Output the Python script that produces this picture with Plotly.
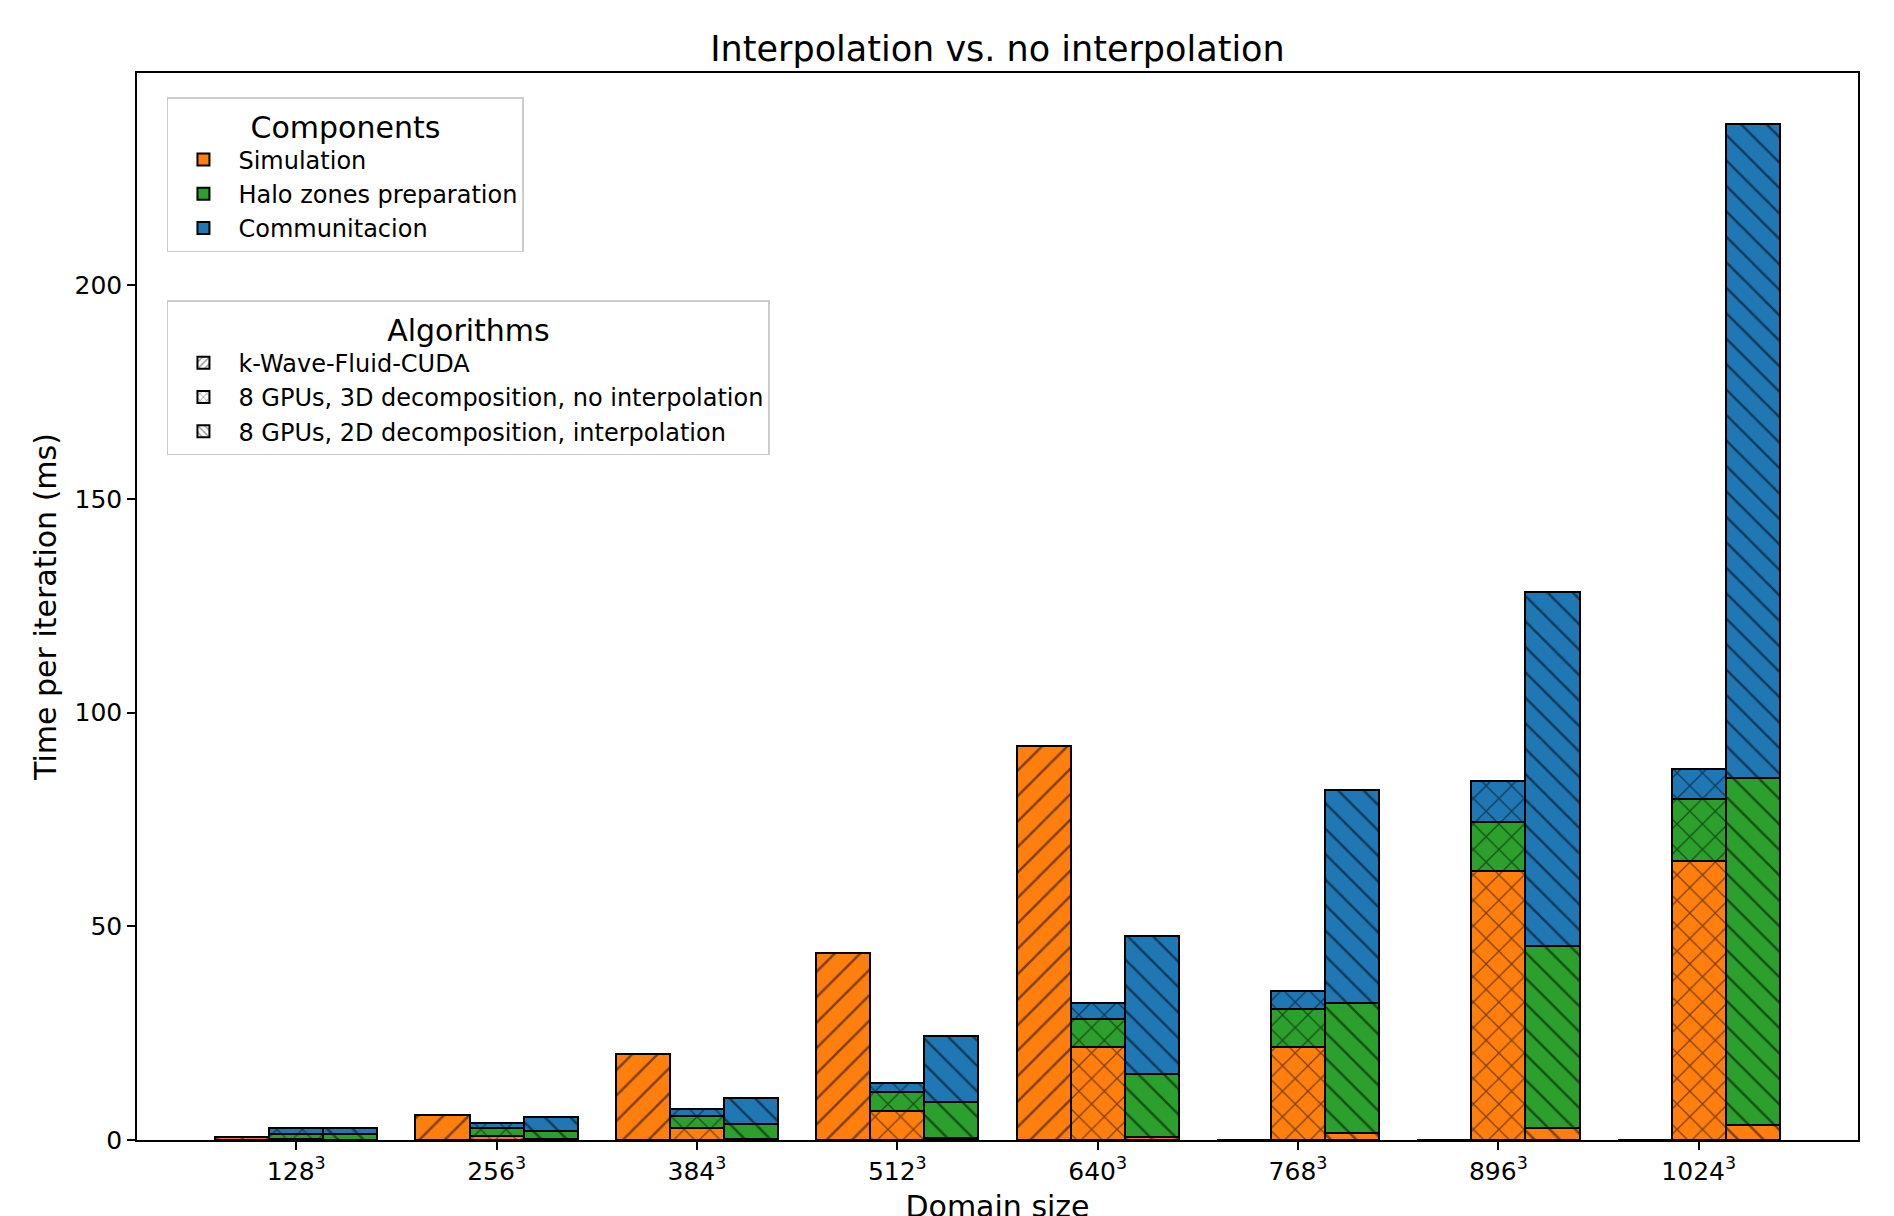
import plotly.graph_objects as go

# ---- data ----
sizes = ["128<sup>3</sup>", "256<sup>3</sup>", "384<sup>3</sup>", "512<sup>3</sup>",
         "640<sup>3</sup>", "768<sup>3</sup>", "896<sup>3</sup>", "1024<sup>3</sup>"]
kwave_sim = [0.8, 5.9, 20.2, 43.8, 92.2, 0, 0, 0]
d3_sim = [0.3, 0.95, 2.7, 6.9, 21.8, 21.8, 63.0, 65.4]
d3_halo = [1.1, 1.75, 2.9, 4.4, 6.5, 8.8, 11.5, 14.4]
d3_comm = [1.5, 1.35, 1.65, 2.0, 3.7, 4.2, 9.6, 7.0]
d2_sim = [0.1, 0.2, 0.2, 0.5, 0.8, 1.6, 2.85, 3.4]
d2_halo = [1.2, 1.9, 3.6, 8.4, 14.6, 30.4, 42.6, 81.3]
d2_comm = [1.6, 3.2, 6.0, 15.5, 32.4, 49.9, 82.9, 153.1]

components = ["Simulation", "Halo zones preparation", "Communitacion"]
comp_colors = ["#ff7f0e", "#2ca02c", "#1f77b4"]
algorithms = ["k-Wave-Fluid-CUDA", "8 GPUs, 3D decomposition, no interpolation",
              "8 GPUs, 2D decomposition, interpolation"]
alg_patterns = ["/", "x", "\\"]

W = 0.27
n = len(sizes)
idx = list(range(n))
FONT = "DejaVu Sans"

fig = go.Figure()

def add_bar(offset, vals, color, pattern):
    fig.add_trace(go.Bar(
        x=[i + offset for i in idx], y=vals, width=W,
        marker=dict(color=color, line=dict(color="black", width=2),
                    pattern=dict(shape=pattern, fgcolor="black", bgcolor=color,
                                 size=18, solidity=0.14, fillmode="overlay")),
        showlegend=False, hoverinfo="y"))

add_bar(-W, kwave_sim, comp_colors[0], alg_patterns[0])
for vals, c in zip([d3_sim, d3_halo, d3_comm], comp_colors):
    add_bar(0, vals, c, alg_patterns[1])
for vals, c in zip([d2_sim, d2_halo, d2_comm], comp_colors):
    add_bar(W, vals, c, alg_patterns[2])

# legend-only traces
for name, c in zip(components, comp_colors):
    fig.add_trace(go.Bar(x=[None], y=[None], name=name, legend="legend",
                         marker=dict(color=c, line=dict(color="black", width=2))))
for name, p in zip(algorithms, alg_patterns):
    fig.add_trace(go.Bar(x=[None], y=[None], name=name, legend="legend2",
                         marker=dict(color="white", line=dict(color="black", width=2),
                                     pattern=dict(shape=p, fgcolor="black", bgcolor="white",
                                                  size=6, solidity=0.25))))

legend_style = dict(bgcolor="white", bordercolor="#cccccc", borderwidth=1.5,
                    font=dict(family=FONT, size=24, color="black"),
                    xanchor="left", yanchor="top", tracegroupgap=0,
                    traceorder="normal", itemwidth=60)

# the page body adds an 8 px offset; margins compensate for it
fig.update_layout(
    width=1894, height=1216,
    margin=dict(l=129, r=44, t=65, b=84),
    paper_bgcolor="white", plot_bgcolor="white",
    barmode="stack", bargap=0,
    font=dict(family=FONT, color="black"),
    title=dict(text="Interpolation vs. no interpolation", x=0.5, xanchor="center",
               xref="paper", y=1 - 41 / 1216, yref="container", yanchor="middle",
               font=dict(family=FONT, size=35, color="black")),
    legend=dict(x=0.0174, y=0.9775,
                title=dict(text="Components", side="top center",
                           font=dict(family=FONT, size=30, color="black")),
                **legend_style),
    legend2=dict(x=0.0174, y=0.787,
                 title=dict(text="Algorithms", side="top center",
                            font=dict(family=FONT, size=30, color="black")),
                 **legend_style),
    xaxis=dict(range=[-0.795, 7.795], tickmode="array", tickvals=idx, ticktext=sizes,
               ticks="outside", ticklen=8, tickwidth=1.5, tickcolor="black",
               showline=True, linecolor="black", linewidth=1.5, mirror=True,
               showgrid=False, zeroline=False, automargin=False,
               tickfont=dict(family=FONT, size=25, color="black"),
               title=dict(text="Domain size", standoff=12,
                          font=dict(family=FONT, size=30, color="black"))),
    yaxis=dict(range=[0, 249.7], tickmode="array", tickvals=[0, 50, 100, 150, 200],
               ticks="outside", ticklen=8, tickwidth=1.5, tickcolor="black",
               showline=True, linecolor="black", linewidth=1.5, mirror=True,
               showgrid=False, zeroline=False, automargin=False,
               tickfont=dict(family=FONT, size=25, color="black"),
               title=dict(text="Time per iteration (ms)", standoff=9,
                          font=dict(family=FONT, size=30, color="black"))),
)

fig.write_html("out.html")
